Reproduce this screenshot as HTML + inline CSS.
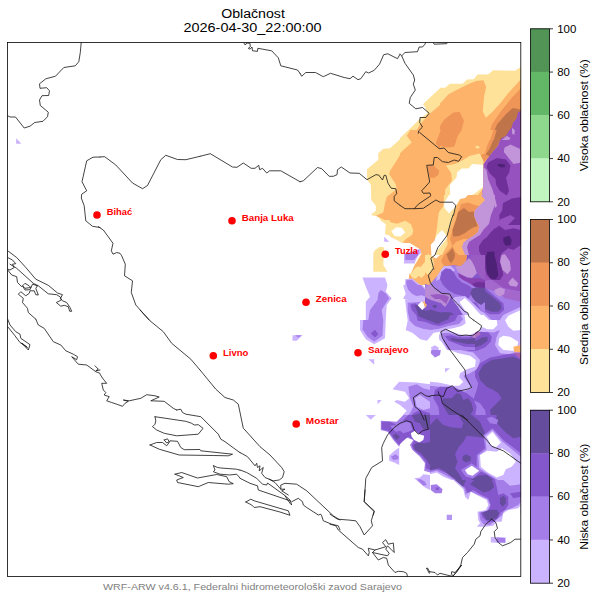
<!DOCTYPE html>
<html><head><meta charset="utf-8"><title>Oblačnost</title>
<style>
html,body{margin:0;padding:0;background:#fff;}
body{width:600px;height:600px;overflow:hidden;font-family:"Liberation Sans",sans-serif;}
svg{display:block;}
text{font-family:"Liberation Sans",sans-serif;}
.b{fill:none;stroke:#141414;stroke-width:0.8;stroke-linejoin:round;stroke-linecap:round;}
.c{font-weight:bold;fill:#ff0000;font-size:8.2px;}
.t{font-size:10.2px;fill:#000;}
</style></head><body>
<svg width="600" height="600" viewBox="0 0 600 600">
<rect x="0" y="0" width="600" height="600" fill="#ffffff"/>
<defs><clipPath id="mc"><rect x="7.5" y="42.5" width="513.3" height="534"/></clipPath></defs>
<g clip-path="url(#mc)">

<polygon points="16.2,138.3 16.2,143.7 21.3,143.7" fill="#c8b0f8"/>
<polygon points="292.5,335.3 302.5,335.3 296.7,340.8 292.5,340.8" fill="#ccb3ff"/>
<polygon points="295.0,335.3 301.7,335.3 298.3,337.5" fill="#a57de8"/>
<clipPath id="t0"><rect x="400.00" y="40.00" width="100.00" height="100.00"/></clipPath>
<g clip-path="url(#t0)">
<rect x="399.00" y="39.00" width="102.00" height="102.00" fill="#ffffff"/>
<polygon points="400.0,138.3 420.8,118.0 427.5,113.3 425.0,106.7 422.8,104.2 440.0,88.3 450.0,84.2 455.0,83.0 463.3,82.5 465.8,79.5 473.3,79.2 477.0,75.0 488.3,74.5 493.3,70.3 500.0,70.3 500.0,140.0 400.0,140.0" fill="#ffe29a"/>
<polygon points="410.8,140.0 420.0,124.2 429.2,114.2 440.0,105.0 450.0,96.7 458.3,90.0 470.0,83.3 478.3,80.0 483.3,80.0 486.7,85.8 485.0,95.0 482.5,110.0 485.8,118.3 493.3,113.3 500.0,109.2 500.0,140.0" fill="#fdb46a"/>
<polygon points="440.8,140.0 441.7,125.0 448.3,116.7 459.2,111.7 463.3,120.0 462.5,130.0 458.3,140.0" fill="#ee9557"/>
</g>
<clipPath id="t1"><rect x="440.00" y="60.00" width="90.00" height="90.00"/></clipPath>
<g clip-path="url(#t1)">
<rect x="439.00" y="59.00" width="92.00" height="92.00" fill="#ffffff"/>
<polygon points="440.0,87.8 445.2,87.8 449.8,83.7 462.5,83.7 467.0,79.5 473.8,79.2 477.5,74.5 488.0,74.5 493.2,70.2 515.0,70.8 520.2,67.2 530.0,67.2 530.0,150.0 440.0,150.0" fill="#ffe29a"/>
<polygon points="440.0,103.5 448.2,94.5 455.0,90.8 467.0,84.8 476.0,81.0 483.5,80.2 486.2,87.0 484.2,96.0 482.8,111.0 485.8,117.8 491.8,112.5 500.0,103.5 509.0,92.2 520.7,79.5 530.0,79.5 530.0,150.0 440.0,150.0" fill="#fdb46a"/>
<polygon points="520.7,88.5 512.0,97.5 500.0,112.5 491.8,124.5 488.0,138.0 486.5,150.0 530.0,150.0 530.0,88.5" fill="#ee9557"/>
<polygon points="520.7,109.5 512.8,108.0 506.0,114.0 497.0,124.5 492.5,135.0 491.8,150.0 530.0,150.0 530.0,109.5" fill="#c0744a"/>
<polygon points="520.7,111.0 518.0,112.5 516.5,118.5 512.8,123.0 512.0,126.8 508.2,132.0 506.0,135.8 500.8,138.8 500.0,144.0 494.8,150.0 530.0,150.0 530.0,111.0" fill="#9652be"/>
<polygon points="502.2,139.5 506.8,135.8 510.5,138.0 506.0,144.0 503.0,146.2" fill="#c294da"/>
<polygon points="512.0,127.5 515.0,130.5 514.2,135.0 512.0,133.5" fill="#c294da"/>
<polygon points="440.0,126.0 444.5,119.2 453.5,112.5 459.5,111.8 464.0,120.8 461.8,129.0 461.0,138.0 455.0,145.5 453.5,150.0 440.0,150.0" fill="#ee9557"/>
<polygon points="475.2,147.0 478.2,145.8 479.8,148.5 476.8,149.2" fill="#ffe29a"/>
</g>
<clipPath id="t2"><rect x="400.00" y="130.00" width="100.00" height="100.00"/></clipPath>
<g clip-path="url(#t2)">
<rect x="399.00" y="129.00" width="102.00" height="102.00" fill="#fdb46a"/>
<polygon points="408.5,130.0 410.3,130.0 406.7,135.8 411.7,142.5 400.0,153.3 400.0,138.3" fill="#ffe29a"/>
<polygon points="400.0,130.0 408.5,130.0 400.0,138.3" fill="#ffffff"/>
<polygon points="400.0,223.3 405.0,220.8 412.5,230.0 400.0,230.0" fill="#ffe29a"/>
<polygon points="440.8,130.0 435.8,143.3 439.2,148.3 444.2,148.0 448.3,152.5 457.5,152.5 453.3,146.7 458.3,135.0 461.7,130.0" fill="#ee9557"/>
<polygon points="427.5,165.8 433.3,165.3 439.2,170.8 438.3,175.0 434.2,177.8 429.7,177.8" fill="#ee9557"/>
<polygon points="446.7,163.3 455.0,160.8 466.7,159.2 471.7,155.0 478.3,155.0 482.5,160.8 482.5,185.0 473.3,194.2 466.7,199.2 460.0,200.0 459.2,204.2 455.8,205.8 454.2,210.0 450.0,213.3 450.8,230.0 440.0,230.0 439.2,223.3 440.0,213.3 435.8,203.3 438.3,200.0 444.2,196.7 445.8,186.7 450.0,181.7 453.3,173.3" fill="#ffe29a"/>
<polygon points="472.5,163.3 482.5,164.2 482.5,185.0 473.3,194.2 466.7,198.3 460.0,198.7 459.2,203.3 455.8,205.0 453.3,202.5 450.0,200.0 450.0,186.7 455.8,180.0 456.7,173.3 461.7,168.7 466.7,169.2" fill="#ffffff"/>
<polygon points="444.2,205.0 453.3,203.3 455.8,205.8 454.2,210.0 448.3,213.3 444.2,208.3" fill="#ffffff"/>
<polygon points="493.3,130.0 500.0,130.0 500.0,145.8 495.0,148.3 490.0,155.0 486.7,160.0 483.3,155.0 480.0,153.3 486.7,146.7 490.8,138.3" fill="#ee9557"/>
<polygon points="496.7,130.0 500.0,130.0 500.0,145.8 495.0,148.3 488.3,157.5 485.8,155.0 493.3,141.7" fill="#c0744a"/>
</g>
<clipPath id="t3"><rect x="440.00" y="140.00" width="90.00" height="90.00"/></clipPath>
<g clip-path="url(#t3)">
<rect x="439.00" y="139.00" width="92.00" height="92.00" fill="#fdb46a"/>
<polygon points="440.0,140.0 456.5,140.0 454.2,146.8 447.5,147.5 440.0,146.0" fill="#ee9557"/>
<polygon points="489.5,140.0 500.0,140.0 497.8,146.0 492.5,152.0 488.0,158.0 483.5,162.5 480.5,155.0 485.0,153.5 486.5,147.5" fill="#ee9557"/>
<polygon points="493.2,140.0 500.0,140.0 497.0,146.8 492.5,152.0 489.5,156.5 485.8,154.2 489.5,149.0" fill="#c0744a"/>
<polygon points="446.0,165.5 455.0,164.0 462.5,160.2 470.0,155.8 479.8,153.5 483.5,161.0 483.5,188.0 477.5,195.5 467.0,200.0 461.0,201.5 459.5,206.0 455.8,207.5 454.2,211.2 447.5,215.0 446.0,230.0 440.0,230.0 440.0,210.5 444.5,204.5 445.2,189.5 452.0,180.5 451.2,173.0" fill="#ffe29a"/>
<polygon points="475.2,146.3 478.2,145.7 479.8,147.8 476.8,148.7" fill="#ffe29a"/>
<polygon points="472.2,164.0 482.8,164.8 483.5,186.5 476.0,192.5 467.0,198.5 459.5,200.0 458.8,203.8 455.0,206.0 450.5,201.5 449.8,185.0 456.5,177.5 457.2,172.2 461.8,168.5 468.5,168.5" fill="#ffffff"/>
<polygon points="443.8,205.2 452.0,203.0 455.0,206.0 453.5,209.8 447.5,213.5 443.8,209.0" fill="#ffffff"/>
<polygon points="459.5,206.0 462.5,201.5 468.5,199.2 479.0,195.5 485.0,197.0 485.0,201.5 480.5,206.0 476.0,210.5 474.5,221.0 479.0,230.0 447.5,230.0 449.0,218.0 454.2,211.2 455.8,207.5" fill="#ee9557"/>
<polygon points="456.5,218.0 462.5,209.0 468.5,212.0 474.5,210.5 474.5,221.0 479.0,230.0 450.5,230.0 453.5,221.0" fill="#c0744a"/>
<polygon points="500.0,140.0 497.8,146.0 492.5,152.0 488.0,158.0 483.5,164.0 483.5,186.5 482.0,192.5 485.0,200.0 480.5,206.0 476.0,210.5 474.5,221.0 479.8,230.0 530.0,230.0 530.0,140.0" fill="#9652be"/>
<polygon points="504.5,147.5 510.5,144.5 520.2,149.0 521.0,162.5 513.5,164.0 507.5,156.5 503.8,152.0" fill="#c294da"/>
<polygon points="483.5,167.0 486.5,170.0 488.0,179.0 492.5,189.5 495.5,200.0 497.0,206.0 491.0,212.0 489.5,218.0 485.0,224.0 485.0,230.0 479.8,230.0 474.5,221.0 476.0,210.5 480.5,206.0 485.0,200.0 482.0,192.5 483.5,186.5" fill="#c294da"/>
<polygon points="488.0,162.5 497.0,158.0 506.0,159.5 510.5,165.5 509.0,173.0 506.0,177.5 509.0,191.0 506.8,195.5 500.0,191.0 496.2,185.0 495.5,179.0 489.5,173.0 486.5,167.0" fill="#70309a"/>
<polygon points="503.0,203.0 512.0,198.5 521.0,197.0 521.0,230.0 503.0,230.0 500.0,224.0 499.2,215.0 502.2,210.5" fill="#70309a"/>
<polygon points="497.0,164.8 500.0,163.7 505.2,164.8 504.5,167.3 500.0,167.3" fill="#4d2175"/>
<polygon points="500.0,219.5 510.5,215.0 515.0,218.0 509.0,224.0 503.0,230.0 498.5,225.5" fill="#9652be"/>
</g>
<clipPath id="t4"><rect x="300.00" y="130.00" width="100.00" height="100.00"/></clipPath>
<g clip-path="url(#t4)">
<rect x="299.00" y="129.00" width="102.00" height="102.00" fill="#ffffff"/>
<polygon points="400.0,139.2 390.0,148.3 383.3,148.7 378.3,153.3 378.3,159.7 367.0,169.2 367.0,179.2 370.8,185.0 371.3,200.0 375.8,205.8 375.8,210.8 370.8,215.0 378.3,216.7 383.3,224.2 385.0,230.0 400.0,230.0" fill="#ffe29a"/>
<polygon points="400.0,155.0 395.0,163.3 390.0,170.8 389.2,174.2 395.8,184.2 396.7,189.2 386.7,196.7 385.0,203.3 383.3,212.5 375.8,215.8 388.3,221.7 400.0,221.7" fill="#fdb46a"/>
</g>
<clipPath id="t5"><rect x="350.00" y="220.00" width="100.00" height="100.00"/></clipPath>
<g clip-path="url(#t5)">
<rect x="349.00" y="219.00" width="102.00" height="102.00" fill="#ffffff"/>
<polygon points="380.0,220.0 385.8,224.2 385.0,234.2 393.3,236.7 401.7,239.2 405.0,241.7 416.7,250.0 420.0,253.3 418.3,261.7 413.3,270.0 409.2,273.3 413.3,277.5 418.3,275.8 423.3,281.7 426.7,284.2 436.7,280.0 443.3,275.0 450.0,270.0 450.0,220.0" fill="#ffe29a"/>
<polygon points="390.8,231.7 397.5,227.0 405.0,231.7 400.0,236.7 395.0,235.8" fill="#ffffff"/>
<polygon points="388.3,220.0 400.0,221.7 411.7,226.7 413.3,234.2 405.0,241.7 416.7,249.2 420.0,253.3 423.3,260.0 416.7,265.0 420.0,270.0 426.7,265.0 430.0,260.0 431.7,256.7 435.0,252.5 437.5,249.2 443.3,236.7 450.0,225.0 450.0,220.0" fill="#fdb46a"/>
<polygon points="430.8,245.0 438.3,233.3 443.3,230.0 448.3,231.7 443.3,241.7 440.0,251.7 435.8,259.2 432.5,256.7 430.8,250.0" fill="#ffffff"/>
<polygon points="448.3,231.7 450.0,228.3 450.0,253.3 443.3,251.7 440.0,251.7 443.3,241.7" fill="#fdb46a"/>
<polygon points="443.3,251.7 450.0,248.3 450.0,263.3 445.0,260.0" fill="#ee9557"/>
<polygon points="375.0,250.0 380.0,246.7 384.2,247.5 383.3,265.0 387.5,271.7 373.3,271.7 373.3,253.3" fill="#ffe29a"/>
<polygon points="384.2,236.7 389.2,241.7 384.2,241.7" fill="#ccb3ff"/>
<polygon points="403.3,253.3 419.2,251.7 420.0,258.3 415.0,264.2 403.3,264.2" fill="#ccb3ff"/>
<polygon points="405.0,255.0 417.5,253.3 418.3,258.0 414.2,262.5 405.0,262.5" fill="#a57de8"/>
<polygon points="362.5,277.5 385.0,277.5 387.5,285.0 385.8,291.7 391.7,298.3 386.7,305.0 385.8,320.0 365.8,320.0 365.8,301.7 370.0,296.7 365.8,286.7" fill="#ccb3ff"/>
<polygon points="380.8,290.0 385.8,293.3 389.2,298.3 385.8,303.3 381.7,310.0 383.3,320.0 368.3,320.0 370.0,310.0 377.5,300.0 378.3,293.3" fill="#a57de8"/>
<polygon points="405.0,279.2 416.7,275.0 428.3,285.0 436.7,291.7 450.0,293.3 450.0,320.0 406.7,320.0 405.8,300.0 408.3,293.3 404.2,285.0" fill="#ccb3ff"/>
<polygon points="405.8,280.8 415.8,280.0 423.3,283.3 428.3,291.7 428.3,295.0 421.7,298.3 411.7,298.3 407.5,290.0" fill="#a57de8"/>
<polygon points="406.7,301.7 420.0,300.0 428.3,296.7 436.7,295.0 450.0,295.0 450.0,320.0 406.7,320.0" fill="#8457cc"/>
<polygon points="411.7,305.0 416.7,303.3 423.3,310.0 430.0,315.0 431.7,320.0 416.7,320.0 413.3,313.3" fill="#654c9c"/>
<polygon points="418.3,305.0 422.5,301.7 426.7,305.8 422.5,310.0" fill="#ffffff"/>
<polygon points="422.5,301.7 426.7,300.0 428.3,305.0 425.8,306.7" fill="#fdb46a"/>
</g>
<clipPath id="t6"><rect x="430.00" y="225.00" width="100.00" height="100.00"/></clipPath>
<g clip-path="url(#t6)">
<rect x="429.00" y="224.00" width="102.00" height="102.00" fill="#9652be"/>
<polygon points="430.0,280.0 436.7,275.0 440.0,269.2 446.7,266.7 456.7,268.3 465.0,263.3 471.7,275.0 480.0,281.7 491.7,280.0 503.3,288.3 520.8,291.7 520.8,325.0 430.0,325.0" fill="#a57de8"/>
<polygon points="430.0,291.7 440.0,295.0 450.0,293.3 460.0,301.7 463.3,311.7 455.0,311.7 446.7,303.3 436.7,300.0 430.0,300.0" fill="#c294da"/>
<polygon points="480.0,281.7 491.7,280.0 503.3,288.3 520.8,291.7 520.8,301.7 505.0,298.3 496.7,291.7 485.0,288.3" fill="#a468cc"/>
<polygon points="430.0,225.0 478.3,225.0 476.7,230.0 470.0,235.0 466.7,241.7 465.8,246.7 468.3,256.7 465.0,263.3 456.7,268.3 446.7,266.7 440.0,269.2 436.7,275.0 430.0,280.0" fill="#fdb46a"/>
<polygon points="430.0,225.0 440.0,225.0 446.7,230.0 444.2,243.3 436.7,255.0 434.2,266.7 430.0,273.3" fill="#ffe29a"/>
<polygon points="431.7,245.0 439.2,231.7 442.5,230.0 446.7,231.7 446.7,238.3 440.0,250.0 435.8,259.2 431.7,254.2" fill="#ffffff"/>
<polygon points="451.7,228.3 473.3,225.0 478.3,226.7 475.0,233.3 468.3,235.0 463.3,240.0 455.0,236.7 451.7,233.3" fill="#ee9557"/>
<polygon points="452.5,228.3 472.5,225.8 475.0,231.7 469.2,234.2 461.7,236.7 453.3,235.0" fill="#c0744a"/>
<polygon points="456.7,243.3 463.3,240.8 466.7,246.7 467.5,255.0 463.3,256.7 457.5,250.0" fill="#ffe29a"/>
<polygon points="445.8,255.0 450.8,247.5 455.0,243.3 456.7,250.0 463.3,256.7 465.8,260.8 458.3,265.0 448.3,263.3" fill="#ee9557"/>
<polygon points="446.7,255.8 450.8,249.2 455.0,255.8 451.7,262.5" fill="#c0744a"/>
<polygon points="440.0,275.0 445.0,268.3 451.7,269.2 456.7,275.0 463.3,280.0 470.0,286.7 469.2,295.0 463.3,293.3 450.0,291.7 441.7,286.7 438.3,281.7" fill="#8457cc"/>
<polygon points="478.3,246.7 485.0,238.3 493.3,230.0 500.0,225.0 520.8,225.0 520.8,245.0 513.3,250.0 508.3,248.3 501.7,253.3 500.0,258.3 503.3,275.0 500.0,280.0 491.7,280.0 486.7,275.0 483.3,261.7 480.0,255.0" fill="#70309a"/>
<polygon points="498.3,225.0 520.8,225.0 520.8,230.0 513.3,228.3 505.0,230.0" fill="#9652be"/>
<polygon points="503.3,237.5 509.2,235.8 511.7,240.0 510.8,245.0 505.8,245.8 503.3,241.7" fill="#4d2175"/>
<polygon points="486.7,252.5 493.3,251.7 496.7,263.3 498.3,275.0 495.8,279.2 490.0,278.3 486.7,271.7 485.8,258.3" fill="#4d2175"/>
<polygon points="501.7,255.0 505.0,254.2 510.0,261.7 510.8,270.0 507.5,274.2 502.5,270.0 500.0,261.7" fill="#c294da"/>
<polygon points="508.3,282.5 512.5,277.5 518.3,283.3 516.7,286.7 510.0,285.8" fill="#c294da"/>
<polygon points="494.2,290.0 500.0,287.5 505.0,289.2 504.2,294.2 499.2,296.7 495.0,293.3" fill="#c294da"/>
<polygon points="469.2,285.0 483.3,285.8 493.3,295.0 503.3,303.3 504.2,310.0 499.2,314.2 490.0,314.2 478.3,308.3 469.2,301.7 467.5,293.3" fill="#8457cc"/>
<polygon points="471.7,287.5 481.7,288.3 490.0,295.0 500.0,303.3 501.7,308.3 498.3,311.7 491.7,311.7 480.0,306.7 471.7,300.0 470.0,293.3" fill="#654c9c"/>
<polygon points="458.3,300.8 465.0,296.7 481.7,310.8 491.7,320.0 498.3,325.0 476.7,325.0 466.7,315.8 460.0,307.5" fill="#ccb3ff"/>
<polygon points="460.0,301.7 465.0,298.3 480.0,311.7 490.0,320.8 495.0,325.0 478.3,325.0 468.3,315.0 461.7,306.7" fill="#ffffff"/>
<polygon points="503.3,315.0 520.8,306.7 520.8,325.0 496.7,325.0" fill="#ccb3ff"/>
<polygon points="508.3,315.8 520.8,310.0 520.8,325.0 501.7,325.0" fill="#ffffff"/>
<polygon points="430.0,305.0 435.0,303.3 440.0,308.3 446.7,311.7 451.7,311.7 450.0,318.3 445.0,321.7 440.0,320.0 435.0,325.0 430.0,325.0" fill="#8457cc"/>
<polygon points="431.7,315.0 438.3,313.3 446.7,312.5 450.0,315.0 445.8,320.8 440.0,319.2 433.3,323.3" fill="#654c9c"/>
</g>
<clipPath id="t7"><rect x="430.00" y="320.00" width="100.00" height="100.00"/></clipPath>
<g clip-path="url(#t7)">
<rect x="429.00" y="319.00" width="102.00" height="102.00" fill="#a57de8"/>
<polygon points="458.3,320.0 520.8,320.0 520.8,355.0 510.0,354.2 500.0,353.3 495.0,345.0 496.7,336.7 500.0,330.0 493.3,332.5 486.7,331.7 480.0,332.5 470.0,336.7 461.7,332.5" fill="#ccb3ff"/>
<polygon points="430.0,330.0 438.3,328.3 445.0,334.2 446.7,341.7 453.3,347.5 463.3,350.8 473.3,352.5 480.0,360.0 478.3,368.3 470.0,373.3 463.3,375.8 467.5,382.5 471.7,388.3 463.3,391.7 455.0,388.3 440.0,386.7 430.0,385.8" fill="#ccb3ff"/>
<polygon points="465.8,320.0 496.7,320.0 497.5,325.0 493.3,329.2 487.5,329.2 481.7,326.7 479.2,331.7 471.7,335.0 465.8,330.0 461.7,325.0" fill="#ffffff"/>
<polygon points="505.0,320.0 520.8,320.0 520.8,330.0 513.3,330.8 508.3,326.7" fill="#ffffff"/>
<polygon points="499.2,338.3 503.3,335.8 510.0,336.7 518.3,341.7 516.7,350.0 512.5,350.8 503.3,350.0 498.3,345.0" fill="#ffffff"/>
<polygon points="430.0,338.3 436.7,332.5 442.5,336.7 443.3,343.3 450.0,350.0 458.3,353.3 470.0,355.8 475.8,360.0 475.0,366.7 466.7,369.2 460.0,373.3 459.2,377.5 463.3,381.7 459.2,385.8 453.3,385.8 446.7,384.2 438.3,382.5 430.0,381.7" fill="#ffffff"/>
<polygon points="445.0,368.3 450.0,368.3 445.0,372.5" fill="#ccb3ff"/>
<polygon points="431.7,346.7 436.7,345.0 440.8,350.0 440.0,355.0 435.0,357.5 430.8,353.3" fill="#a57de8"/>
<polygon points="475.0,371.7 480.0,363.3 490.0,357.5 503.3,355.0 513.3,353.3 520.8,355.8 520.8,420.0 486.7,420.0 485.0,410.0 480.0,403.3 473.3,400.0 476.7,390.0 478.3,383.3 475.0,376.7" fill="#8457cc"/>
<polygon points="478.3,373.3 483.3,365.0 491.7,360.0 503.3,358.3 513.3,356.7 520.8,360.0 520.8,420.0 491.7,420.0 490.0,410.0 496.7,403.3 501.7,398.3 498.3,393.3 493.3,390.0 486.7,386.7 480.0,380.0" fill="#654c9c"/>
<polygon points="443.3,334.2 448.3,330.8 456.7,332.5 470.0,335.8 480.0,331.7 488.3,332.5 491.7,336.7 490.8,341.7 485.0,347.5 476.7,350.8 468.3,350.8 461.7,347.5 451.7,343.3 445.0,338.3" fill="#8457cc"/>
<polygon points="450.0,336.7 460.0,337.5 471.7,339.2 476.7,340.8 481.7,337.5 487.5,336.7 487.5,340.8 481.7,345.0 476.7,346.7 470.0,347.5 465.8,344.2 455.0,340.8" fill="#654c9c"/>
<polygon points="430.0,320.0 456.7,320.0 455.0,324.2 446.7,327.5 438.3,329.2 430.0,328.3" fill="#8457cc"/>
<polygon points="430.0,320.0 445.0,320.0 443.3,323.3 436.7,325.0 430.0,323.3" fill="#654c9c"/>
<polygon points="435.0,390.0 440.0,386.7 453.3,386.7 460.0,390.0 466.7,393.3 473.3,398.3 476.7,406.7 475.0,416.7 470.0,420.0 440.0,420.0 438.3,406.7 433.3,398.3" fill="#8457cc"/>
<polygon points="443.3,398.3 451.7,398.3 456.7,393.3 460.8,394.2 463.3,400.0 468.3,398.3 471.7,403.3 473.3,410.0 469.2,416.7 463.3,420.0 451.7,420.0 446.7,411.7 441.7,403.3" fill="#654c9c"/>
<polygon points="513.3,346.7 520.8,345.0 520.8,352.5 514.2,351.7" fill="#fdb46a"/>
<polygon points="513.3,352.5 520.8,352.5 520.8,359.2 516.7,355.8" fill="#b060b0"/>
<polygon points="470.0,335.0 478.3,330.8 480.8,334.2 475.0,338.3" fill="#b070c0"/>
</g>
<clipPath id="t8"><rect x="430.00" y="415.00" width="100.00" height="100.00"/></clipPath>
<g clip-path="url(#t8)">
<rect x="429.00" y="414.00" width="102.00" height="102.00" fill="#8457cc"/>
<polygon points="430.0,425.0 436.7,418.3 443.3,425.0 451.7,427.5 461.7,428.3 463.3,423.3 458.3,415.0 471.7,415.0 480.0,421.7 485.0,433.3 486.7,438.3 476.7,436.7 466.7,435.8 463.3,441.7 458.3,447.5 455.0,454.2 457.5,461.7 455.0,468.3 461.7,478.3 463.3,485.0 459.2,489.2 453.3,481.7 445.8,471.7 439.2,468.3 430.0,470.0" fill="#654c9c"/>
<polygon points="496.7,415.0 520.8,415.0 520.8,436.7 513.3,438.3 506.7,433.3 500.0,426.7 495.8,421.7" fill="#654c9c"/>
<polygon points="462.5,456.7 465.8,454.2 470.8,456.7 470.8,460.8 465.8,462.5 462.5,460.0" fill="#654c9c"/>
<polygon points="470.8,480.0 478.3,475.8 486.7,475.0 492.5,479.2 494.2,485.8 488.3,490.8 480.0,492.5 474.2,489.2 470.0,485.0" fill="#654c9c"/>
<polygon points="500.0,498.3 504.2,495.8 506.7,500.0 504.2,505.8 500.8,504.2" fill="#654c9c"/>
<polygon points="478.3,512.5 485.0,510.0 493.3,510.0 498.3,515.0 476.7,515.0" fill="#654c9c"/>
<polygon points="486.7,418.3 491.7,416.7 498.3,420.0 496.7,424.2 490.0,423.3" fill="#a57de8"/>
<polygon points="483.3,435.0 492.5,428.3 503.3,440.0 520.8,453.3 520.8,493.3 510.0,490.0 501.7,485.0 493.3,478.3 485.0,473.3 476.7,470.0 476.7,455.0 485.0,448.3" fill="#a57de8"/>
<polygon points="460.8,470.0 471.7,463.3 481.7,470.8 473.3,478.3 465.8,476.7" fill="#a57de8"/>
<polygon points="430.0,470.8 437.5,469.2 446.7,473.3 455.0,479.2 463.3,488.3 467.5,495.0 474.2,486.7 481.7,492.5 489.2,500.0 491.7,508.3 483.3,515.0 430.0,515.0" fill="#a57de8"/>
<polygon points="485.0,435.8 492.5,430.0 502.5,441.7 520.8,456.7 520.8,486.7 513.3,482.5 506.7,485.8 496.7,479.2 486.7,473.3 479.2,468.3 478.3,455.8 486.7,449.2" fill="#ccb3ff"/>
<polygon points="430.0,472.5 436.7,470.8 445.0,475.0 454.2,480.0 462.5,489.2 467.5,497.5 474.7,488.3 480.8,493.7 487.5,500.8 490.0,507.5 482.5,514.2 478.3,515.0 430.0,515.0" fill="#ccb3ff"/>
<polygon points="486.7,436.7 492.5,431.7 500.8,442.5 495.8,447.5 490.8,445.0" fill="#ffffff"/>
<polygon points="480.0,455.0 487.5,450.8 496.7,451.7 501.7,448.3 510.0,453.3 515.8,461.7 511.7,466.7 505.8,469.2 503.3,475.0 496.7,477.5 486.7,471.7 480.8,466.7" fill="#ffffff"/>
<polygon points="465.0,470.0 471.7,465.8 479.2,470.8 472.5,475.8 467.5,474.2" fill="#ffffff"/>
<polygon points="430.0,474.2 436.7,472.5 443.3,476.7 453.3,480.8 461.7,490.0 467.5,499.2 475.0,490.0 480.0,495.0 486.7,501.7 488.3,506.7 481.7,513.3 476.7,515.0 430.0,515.0" fill="#ffffff"/>
<polygon points="431.7,485.0 436.7,483.3 442.5,488.3 441.7,493.3 435.0,493.3 430.8,490.0" fill="#a57de8"/>
<polygon points="435.8,487.5 439.2,487.5 438.3,490.8 435.8,490.0" fill="#8457cc"/>
</g>
<clipPath id="t9"><rect x="430.00" y="480.00" width="100.00" height="100.00"/></clipPath>
<g clip-path="url(#t9)">
<rect x="429.00" y="479.00" width="102.00" height="102.00" fill="#ffffff"/>
<polygon points="453.3,480.0 463.3,489.2 465.0,496.7 468.3,500.0 470.8,491.7 478.3,495.8 486.7,500.0 488.3,505.0 485.8,510.0 477.5,511.7 478.3,520.0 480.0,523.3 476.7,526.7 485.0,526.7 493.3,525.8 496.7,521.7 501.7,521.7 503.3,513.3 508.3,510.0 518.3,508.3 520.8,505.0 520.8,480.0" fill="#ccb3ff"/>
<polygon points="455.0,480.0 464.2,488.3 465.8,495.0 469.2,490.8 478.3,495.0 487.5,499.2 490.0,505.0 487.5,510.8 479.2,512.5 480.0,519.2 483.3,524.2 490.0,525.0 495.8,520.0 501.7,515.8 504.2,510.8 511.7,508.3 518.3,505.0 520.8,501.7 520.8,480.0" fill="#a57de8"/>
<polygon points="456.7,480.0 465.0,487.5 467.5,493.3 473.3,490.0 480.0,494.2 488.3,498.3 490.8,505.0 488.3,510.8 480.8,512.5 482.5,517.5 487.5,521.7 494.2,521.7 498.3,517.5 500.8,512.5 505.0,510.0 508.3,505.0 508.3,496.7 503.3,493.3 498.3,495.0 496.7,486.7 495.0,480.0" fill="#8457cc"/>
<polygon points="510.0,493.3 520.8,491.7 520.8,496.7 513.3,498.3" fill="#8457cc"/>
<polygon points="503.3,480.0 520.8,480.0 520.8,484.2 510.0,485.8" fill="#ccb3ff"/>
<polygon points="470.0,484.2 474.2,480.0 491.7,480.0 494.2,486.7 490.0,490.8 483.3,492.5 476.7,488.3" fill="#654c9c"/>
<polygon points="455.0,480.0 465.8,480.0 463.3,486.7" fill="#654c9c"/>
<polygon points="500.0,498.3 503.3,495.8 505.8,498.3 505.8,503.3 502.5,506.7 500.0,503.3" fill="#654c9c"/>
<polygon points="482.5,513.3 488.3,510.0 496.7,509.7 499.2,513.3 496.7,518.3 491.7,520.0 486.7,520.0" fill="#654c9c"/>
<polygon points="430.8,485.0 436.7,484.2 442.5,489.2 441.7,493.3 435.0,493.3 430.8,490.0" fill="#a57de8"/>
<polygon points="435.8,487.5 439.2,487.5 438.3,490.3 435.8,490.0" fill="#8457cc"/>
<polygon points="446.7,514.7 452.0,514.7 452.0,520.0 446.7,520.0" fill="#b495f0"/>
<polygon points="490.8,537.0 505.8,537.5 505.8,543.0 490.8,542.5" fill="#ccb3ff"/>
<polygon points="496.7,537.5 505.0,538.0 505.0,542.5 496.7,542.5" fill="#a57de8"/>
</g>
<clipPath id="t10"><rect x="330.00" y="320.00" width="100.00" height="100.00"/></clipPath>
<g clip-path="url(#t10)">
<rect x="329.00" y="319.00" width="102.00" height="102.00" fill="#ffffff"/>
<polygon points="360.0,320.0 385.8,320.0 385.0,338.3 374.2,344.2 365.8,339.2 360.0,330.0" fill="#ccb3ff"/>
<polygon points="363.3,320.0 383.3,320.0 382.5,335.8 374.2,341.7 367.5,336.7 362.5,329.2" fill="#a57de8"/>
<polygon points="370.8,333.3 375.0,329.7 378.3,334.2 374.7,337.5" fill="#8457cc"/>
<polygon points="405.8,320.0 430.0,320.0 430.0,335.0 426.7,340.8 420.0,335.8 411.7,331.7 406.7,328.3" fill="#ccb3ff"/>
<polygon points="408.3,320.0 430.0,320.0 430.0,331.7 420.0,332.5 412.5,329.2" fill="#a57de8"/>
<polygon points="368.3,359.2 374.2,359.2 374.2,364.7" fill="#ccb3ff"/>
<polygon points="392.5,389.2 399.2,381.7 416.7,382.5 430.0,384.2 430.0,420.0 398.3,420.0 406.7,410.8 400.0,405.0 394.2,401.7 396.7,400.0 405.0,401.7 409.2,398.3 405.0,391.7" fill="#ccb3ff"/>
<polygon points="408.3,386.7 416.7,384.2 423.3,388.3 430.0,390.0 430.0,420.0 403.3,420.0 410.0,413.3 413.3,406.7 410.0,398.3" fill="#a57de8"/>
<polygon points="415.0,398.3 420.0,395.0 430.0,401.7 430.0,408.3 423.3,410.0 416.7,406.7" fill="#ccb3ff"/>
<polygon points="408.3,420.0 413.3,413.3 420.0,410.0 430.0,413.3 430.0,420.0" fill="#8457cc"/>
<polygon points="412.5,420.0 415.0,415.0 420.8,413.3 423.3,420.0" fill="#654c9c"/>
<polygon points="377.5,400.0 381.7,400.0 377.5,404.2" fill="#ccb3ff"/>
<polygon points="365.8,415.0 375.0,415.0 370.8,419.2" fill="#ccb3ff"/>
</g>
<clipPath id="t11"><rect x="330.00" y="415.00" width="100.00" height="100.00"/></clipPath>
<g clip-path="url(#t11)">
<rect x="329.00" y="414.00" width="102.00" height="102.00" fill="#ffffff"/>
<polygon points="365.8,415.0 375.8,415.0 370.8,419.7" fill="#ccb3ff"/>
<polygon points="380.8,420.8 396.7,421.7 403.3,415.0 430.0,415.0 430.0,472.5 424.2,470.8 425.0,463.3 420.0,456.7 412.5,450.0 410.0,445.0 413.3,440.0 406.7,437.5 400.0,444.2 399.2,446.7 393.3,440.0 387.5,431.7 380.8,430.0" fill="#a57de8"/>
<polygon points="381.7,421.7 390.0,421.7 396.7,425.0 403.3,420.0 408.3,415.0 430.0,415.0 430.0,470.0 425.8,468.3 425.8,461.7 420.8,455.8 413.3,449.2 411.7,445.0 414.2,440.0 408.3,436.7 401.7,441.7 399.2,445.0 394.2,439.2 388.3,430.8 381.7,429.2" fill="#8457cc"/>
<polygon points="390.0,425.8 396.7,425.0 403.3,420.8 410.0,422.5 412.5,430.0 408.3,431.7 403.3,433.3 400.0,430.8 395.8,431.7" fill="#a57de8"/>
<polygon points="392.5,435.8 396.3,433.7 400.0,436.7 396.7,440.0" fill="#654c9c"/>
<polygon points="411.7,415.0 430.0,415.0 430.0,430.0 423.3,429.2 420.0,423.3 415.0,421.7" fill="#654c9c"/>
<polygon points="413.3,445.0 418.3,442.5 425.0,443.3 430.0,441.7 430.0,465.0 426.7,460.0 420.8,453.3 415.0,450.0" fill="#654c9c"/>
<polygon points="410.8,433.3 415.0,430.8 419.2,434.2 424.2,435.8 423.3,440.0 419.2,442.5 414.2,440.0 411.7,436.7" fill="#ffffff"/>
<polygon points="389.2,455.8 393.3,451.7 399.2,447.5 399.2,465.0 394.2,462.5 389.2,460.8" fill="#ccb3ff"/>
<polygon points="390.8,456.7 395.8,454.2 398.7,456.7 398.3,459.2 393.3,460.0" fill="#a57de8"/>
<polygon points="414.2,478.3 420.0,477.5 423.3,474.2 430.0,475.0 430.0,490.0 425.0,487.5 420.0,483.3" fill="#ccb3ff"/>
<polygon points="416.7,479.2 420.8,479.2 425.0,481.7 426.7,485.0 423.3,485.8" fill="#a57de8"/>
</g>
<clipPath id="t12"><rect x="395.00" y="270.00" width="80.00" height="80.00"/></clipPath>
<g clip-path="url(#t12)">
<rect x="394.00" y="269.00" width="82.00" height="82.00" fill="#ffffff"/>
<polygon points="409.0,272.7 415.0,270.0 439.0,270.0 440.3,274.0 435.0,278.0 431.0,282.7 427.0,284.7 423.7,282.7 420.3,276.7 417.7,276.0 415.7,278.7 413.0,278.0" fill="#fdb46a"/>
<polygon points="440.3,274.0 441.7,270.0 475.0,270.0 475.0,286.0 469.7,288.7 475.0,295.3 475.0,314.0 467.0,310.0 460.3,302.0 453.7,296.7 451.0,294.0 441.7,293.3 436.3,288.7 433.7,284.7 435.0,278.0" fill="#8457cc"/>
<polygon points="453.7,270.0 475.0,270.0 475.0,286.0 469.7,283.3 464.3,280.0 457.7,276.7" fill="#b98ad6"/>
<polygon points="469.7,295.3 475.0,290.0 475.0,314.0 471.7,308.7 469.7,302.0" fill="#654c9c"/>
<polygon points="403.0,280.0 412.3,278.7 420.3,282.7 426.3,289.3 429.0,294.7 427.0,298.7 417.7,298.7 409.7,300.0 403.0,298.7 405.7,294.0 403.0,284.7" fill="#ccb3ff"/>
<polygon points="406.3,280.7 411.0,279.3 419.0,283.3 424.3,288.7 427.7,293.3 425.7,296.7 421.7,295.3 416.3,296.0 412.3,294.0 408.3,290.0 406.3,284.7" fill="#a57de8"/>
<polygon points="405.0,299.6 409.7,299.1 421.7,298.3 433.7,300.0 448.3,306.0 457.7,311.3 464.3,314.0 465.7,323.3 461.7,326.0 451.0,328.7 445.7,329.3 439.0,332.0 433.7,332.7 427.0,340.7 420.3,339.3 412.3,332.7 405.7,330.0 407.7,320.7 406.3,310.0" fill="#ccb3ff"/>
<polygon points="407.7,302.7 420.3,302.0 435.0,302.7 448.3,307.3 459.0,312.7 463.0,319.3 459.0,324.0 448.3,326.0 439.0,328.7 431.0,330.0 423.0,328.7 415.0,326.0 409.7,320.7 407.7,311.3" fill="#a57de8"/>
<polygon points="428.3,295.3 433.7,284.7 436.3,288.7 441.7,293.3 451.0,294.0 453.7,296.7 460.3,302.0 465.7,310.0 463.0,312.7 457.7,311.3 453.7,308.7 448.3,306.0 444.3,304.7 440.3,302.0 435.0,301.3 429.7,298.7" fill="#b98ad6"/>
<polygon points="431.0,296.0 439.0,293.3 449.7,294.7 451.0,298.7 446.3,304.7 440.3,302.0 435.0,300.7" fill="#9a5cc2"/>
<polygon points="410.3,304.7 415.0,303.3 421.7,307.3 427.0,306.7 432.3,302.0 439.0,304.7 445.7,308.0 453.7,310.0 457.7,315.3 455.0,320.7 448.3,323.3 439.0,326.0 432.3,324.7 425.7,322.0 417.7,320.7 416.3,315.3 411.7,310.0" fill="#8457cc"/>
<polygon points="414.3,305.3 417.7,305.3 421.7,310.0 428.3,309.3 433.7,312.7 441.7,313.3 447.0,311.3 451.0,312.7 448.3,319.3 443.0,321.3 437.7,324.0 431.0,321.3 424.3,318.7 418.3,316.0 417.0,310.7" fill="#654c9c"/>
<polygon points="431.7,305.3 435.0,304.0 437.7,306.7 433.7,308.7" fill="#8457cc"/>
<polygon points="417.7,305.3 421.7,301.3 423.7,303.3 425.0,307.3 422.3,310.0" fill="#ffffff"/>
<polygon points="422.3,302.0 426.3,300.7 427.7,306.0 425.0,307.3 423.7,303.3" fill="#fdb46a"/>
<polygon points="460.3,302.0 464.3,298.0 475.0,308.0 475.0,328.7 469.7,322.7 467.0,315.3 465.7,310.0" fill="#ffffff"/>
<polygon points="439.0,335.3 441.0,330.7 445.7,329.3 451.0,331.3 459.0,334.0 467.0,336.0 475.0,332.7 475.0,350.0 447.0,350.0 441.7,342.0 439.0,339.3" fill="#ccb3ff"/>
<polygon points="441.7,333.3 448.3,332.7 457.7,335.3 469.7,335.3 475.0,334.0 475.0,350.0 448.3,350.0 443.7,342.0" fill="#a57de8"/>
<polygon points="445.0,336.0 451.0,335.3 459.0,337.3 469.7,337.3 475.0,336.0 475.0,347.3 464.3,346.7 455.0,343.3 448.3,340.7" fill="#8457cc"/>
<polygon points="449.7,338.0 457.7,338.7 467.0,339.3 475.0,338.0 475.0,344.0 467.0,344.0 457.7,342.0 452.3,340.7" fill="#654c9c"/>
<polygon points="471.0,335.3 475.0,334.0 475.0,338.0 472.3,337.3" fill="#b98ad6"/>
<polygon points="431.0,347.3 435.0,345.3 439.0,348.0 438.3,350.0 431.7,350.0" fill="#ccb3ff"/>
</g>
<clipPath id="t13"><rect x="390.00" y="215.00" width="70.00" height="70.00"/></clipPath>
<g clip-path="url(#t13)">
<rect x="389.00" y="214.00" width="72.00" height="72.00" fill="#fdb46a"/>
<polygon points="390.0,222.0 397.0,223.8 405.2,220.8 411.0,224.3 413.3,230.2 412.2,234.8 405.2,239.5 402.8,243.0 397.0,240.1 390.0,236.6" fill="#ffe29a"/>
<polygon points="390.0,236.6 397.0,240.1 402.8,243.0 409.8,243.0 419.2,248.8 421.5,253.5 416.8,261.7 414.5,265.2 411.0,273.3 409.2,273.9 408.7,280.3 406.3,285.0 390.0,285.0" fill="#ffffff"/>
<polygon points="391.2,231.3 396.4,227.2 401.7,227.8 405.2,232.5 400.5,236.6 394.7,236.0" fill="#ffffff"/>
<polygon points="439.0,215.0 451.8,215.0 449.5,222.0 447.2,230.2 442.5,229.6 439.0,231.3 437.8,222.0" fill="#ffe29a"/>
<polygon points="428.5,253.5 430.8,258.2 435.5,259.9 432.0,264.0 428.5,269.8 425.0,274.5 421.5,278.0 418.6,275.7 416.2,278.6 413.3,278.6 409.2,273.9 411.0,273.3 415.7,267.5 419.2,266.3 420.3,267.5 425.0,261.7" fill="#ffe29a"/>
<polygon points="430.8,244.8 436.7,238.3 439.0,231.3 442.5,229.6 447.2,234.2 447.2,238.3 442.5,250.0 439.0,256.4 435.5,259.3 431.4,255.8" fill="#ffffff"/>
<polygon points="453.0,238.3 452.4,234.8 453.6,226.7 455.3,220.8 456.5,215.0 460.0,215.0 460.0,240.7 456.5,244.2 455.3,250.0 460.0,253.5 460.0,264.0 453.0,264.0 447.2,261.7 446.0,255.8 450.7,245.3" fill="#ee9557"/>
<polygon points="453.6,226.7 455.9,219.7 460.0,217.3 460.0,235.4 455.3,237.2 453.0,234.8" fill="#c0744a"/>
<polygon points="446.0,255.8 450.7,248.8 454.8,255.8 450.7,262.8" fill="#c0744a"/>
<polygon points="456.5,244.2 460.0,241.2 460.0,252.9 455.9,250.0" fill="#ffe29a"/>
<polygon points="430.2,285.0 429.7,273.3 434.3,271.0 439.0,266.3 441.3,260.5 444.8,264.0 450.7,265.2 460.0,266.3 460.0,285.0" fill="#b98ad6"/>
<polygon points="440.2,269.8 444.8,266.3 450.7,266.9 460.0,268.1 460.0,285.0 439.0,285.0 438.4,275.7" fill="#ccb3ff"/>
<polygon points="441.9,272.2 446.0,268.1 451.8,268.7 460.0,269.8 460.0,285.0 441.3,285.0 440.2,278.0" fill="#8457cc"/>
<polygon points="404.0,253.5 420.3,248.8 420.9,253.5 418.0,255.8 415.1,261.7 415.1,263.4 404.0,263.4" fill="#ccb3ff"/>
<polygon points="405.2,254.1 419.2,250.0 418.0,255.2 413.9,259.9 405.2,259.9" fill="#a57de8"/>
<polygon points="405.2,279.2 412.2,278.6 420.3,285.0 405.2,285.0" fill="#ccb3ff"/>
<polygon points="406.3,280.3 411.6,279.8 418.0,285.0 406.3,285.0" fill="#a57de8"/>
</g>
<clipPath id="t14"><rect x="425.00" y="255.00" width="60.00" height="60.00"/></clipPath>
<g clip-path="url(#t14)">
<rect x="424.00" y="254.00" width="62.00" height="62.00" fill="#8457cc"/>
<polygon points="425.0,285.0 437.0,275.0 443.0,266.0 455.0,265.0 467.0,275.0 477.0,285.0 477.0,303.0 455.0,298.0 440.0,295.0 425.0,297.0" fill="#a57de8"/>
<polygon points="437.0,275.0 440.0,270.0 445.0,265.5 451.0,266.0 455.0,270.0 453.0,272.0 450.0,269.0 445.5,268.5 441.5,272.0 440.0,279.0 436.0,281.0" fill="#ccb3ff"/>
<polygon points="440.0,279.0 441.5,272.0 445.5,268.5 450.5,269.0 453.5,272.0 457.0,278.0 462.0,282.5 468.0,285.0 472.0,288.0 471.0,295.0 468.0,299.0 463.0,296.0 455.0,294.0 448.0,290.0 443.0,285.0" fill="#8457cc"/>
<polygon points="425.0,255.0 467.0,255.0 466.0,261.0 461.0,266.0 454.0,265.0 448.0,265.5 444.0,266.0 441.0,270.0 437.0,276.0 431.0,283.0 429.0,285.0 425.0,284.0" fill="#fdb46a"/>
<polygon points="425.0,255.0 431.0,255.0 433.5,260.0 434.0,269.0 428.0,275.0 425.0,272.0" fill="#ffe29a"/>
<polygon points="441.0,261.0 444.0,255.0 467.0,255.0 466.0,261.0 461.0,266.0 454.0,265.0 448.0,265.5 444.0,266.0" fill="#ee9557"/>
<polygon points="447.0,255.0 455.0,255.0 454.0,259.0 451.0,263.5 448.0,259.0" fill="#c0744a"/>
<polygon points="431.0,255.0 440.0,255.0 436.0,258.5 433.0,257.0" fill="#ffffff"/>
<polygon points="455.0,266.0 461.0,266.0 466.0,261.0 469.0,258.0 472.0,261.0 475.0,267.0 477.0,273.0 472.0,278.0 467.0,277.0 462.0,275.0 458.0,272.0" fill="#c294da"/>
<polygon points="469.0,258.0 472.0,255.0 485.0,255.0 485.0,280.0 481.0,278.0 477.0,273.0 475.0,267.0 472.0,261.0" fill="#9a5cc2"/>
<polygon points="458.0,273.0 462.0,275.0 467.0,277.5 472.0,278.5 477.0,278.0 481.0,278.5 485.0,280.5 485.0,287.0 481.0,286.0 475.0,287.0 472.0,285.0 468.0,282.5 463.0,280.0 459.0,277.0" fill="#8a42b2"/>
<polygon points="472.0,284.0 477.0,282.0 485.0,282.5 485.0,288.0 476.0,287.5" fill="#70309a"/>
<polygon points="472.0,288.5 476.0,287.5 485.0,288.0 485.0,302.0 481.0,305.0 476.0,302.0 472.0,297.0 470.5,293.0" fill="#654c9c"/>
<polygon points="425.0,288.0 431.0,284.0 435.0,289.0 441.0,293.0 449.0,293.5 451.0,297.0 448.0,303.0 445.0,307.0 437.0,302.0 431.0,300.0 425.0,297.0" fill="#b98ad6"/>
<polygon points="430.0,295.0 437.0,294.0 445.0,295.0 449.0,297.0 446.5,304.0 440.0,299.0 435.0,299.0" fill="#9a5cc2"/>
<polygon points="425.0,303.0 427.0,305.0 425.0,308.0" fill="#fdb46a"/>
<polygon points="427.0,309.0 431.0,304.0 436.0,302.0 441.0,303.0 445.0,308.0 451.0,310.0 455.0,315.0 425.0,315.0 425.0,310.0" fill="#8457cc"/>
<polygon points="425.0,311.0 431.0,309.5 435.0,311.0 440.0,312.5 445.0,312.0 451.0,312.5 454.0,315.0 425.0,315.0" fill="#654c9c"/>
<polygon points="432.0,306.0 435.0,304.5 437.5,306.5 434.5,308.5" fill="#654c9c"/>
<polygon points="455.0,297.0 465.0,296.0 473.0,303.0 481.0,311.0 485.0,313.0 485.0,315.0 463.0,315.0 458.0,307.0 452.0,299.0" fill="#ccb3ff"/>
<polygon points="459.5,302.0 465.0,298.0 472.0,305.0 477.0,311.0 481.0,315.0 469.0,315.0 464.0,309.0" fill="#ffffff"/>
<polygon points="476.0,302.0 481.0,305.0 485.0,302.0 485.0,313.0 481.0,311.0" fill="#a57de8"/>
</g>
<clipPath id="t15"><rect x="435.00" y="195.00" width="60.00" height="60.00"/></clipPath>
<g clip-path="url(#t15)">
<rect x="434.00" y="194.00" width="62.00" height="62.00" fill="#fdb46a"/>
<polygon points="444.0,195.0 460.0,195.0 460.0,199.5 456.5,206.0 454.0,214.0 451.0,224.0 447.0,235.0 447.5,245.0 446.0,247.0 442.0,255.0 435.0,255.0 435.0,239.0 437.0,228.0 438.0,218.0 439.0,212.0 443.5,206.0" fill="#ffe29a"/>
<polygon points="449.0,195.0 468.0,195.0 465.0,198.0 460.0,199.0 458.0,202.0 455.0,207.0 449.0,213.5 444.5,208.0 444.0,203.0" fill="#ffffff"/>
<polygon points="435.0,239.0 437.0,235.0 442.0,230.0 446.0,235.0 447.0,238.0 437.0,251.0 435.0,255.0" fill="#ffffff"/>
<polygon points="459.0,210.0 461.0,204.0 468.0,202.5 475.0,205.0 479.0,206.0 475.0,210.0 474.0,215.0 476.0,221.0 479.0,226.0 478.0,232.0 473.0,236.0 468.0,239.0 464.0,239.0 456.0,242.0 452.5,246.0 450.0,239.0 452.5,229.0 456.0,220.0" fill="#ee9557"/>
<polygon points="452.5,246.0 455.0,251.0 459.0,255.0 444.0,255.0 448.0,251.0" fill="#ee9557"/>
<polygon points="458.0,212.0 464.0,208.0 469.0,212.0 474.0,211.5 474.0,216.0 476.0,221.0 477.5,226.0 473.0,227.5 469.0,230.0 465.0,233.0 459.0,236.0 453.0,236.5 452.5,230.0 456.0,220.0" fill="#c0744a"/>
<polygon points="450.0,251.0 452.5,248.0 455.0,255.0 446.0,255.0" fill="#c0744a"/>
<polygon points="456.0,242.0 464.0,239.0 468.0,239.0 463.5,242.5 462.0,247.0 465.0,255.0 459.0,255.0 455.0,251.0" fill="#fdb46a"/>
<polygon points="481.0,195.0 485.0,200.0 479.0,206.0 475.0,210.0 474.0,215.0 476.0,221.0 479.0,226.0 478.0,232.0 473.0,236.0 468.0,239.0 463.5,242.5 462.0,247.0 465.0,255.0 495.0,255.0 495.0,195.0" fill="#c294da"/>
<polygon points="495.0,205.0 491.0,215.0 489.0,224.0 484.0,229.0 480.0,235.0 475.0,238.0 469.0,242.0 467.0,247.0 469.0,255.0 495.0,255.0" fill="#9652be"/>
<polygon points="495.0,228.0 491.0,232.0 487.0,237.0 483.0,240.0 479.0,246.0 479.0,251.0 481.0,255.0 495.0,255.0" fill="#70309a"/>
<polygon points="487.0,252.0 494.0,251.5 495.0,255.0 487.0,255.0" fill="#4d2175"/>
</g>
<g class="b">
<polyline points="81.2,42.5 80.3,52.5 78.8,61.7 75.3,65.8 63.8,67.5 55.5,76.2 45.8,78.8 39.5,83.8 40.0,88.3 46.7,87.7 49.5,90.8 48.7,95.5 42.0,95.7 39.5,100.0 40.3,105.5 48.3,112.2 47.5,116.7 43.0,121.3 34.7,122.5 30.0,126.2 24.2,128.0 15.5,117.0 10.0,117.0 7.7,115.8"/>
<polyline points="100.0,157.0 93.0,157.2 86.7,160.8 82.0,181.7 86.7,190.8 81.7,194.2 81.3,198.0 84.2,205.8 85.8,220.8 92.5,226.3 100.0,227.5"/>
<polyline points="243.7,42.7 245.3,45.0 246.7,43.0 250.0,43.3 250.3,46.7 248.3,48.3 250.0,49.2 252.0,47.0 252.5,50.8 257.5,51.3 257.8,48.3 271.7,50.8 278.3,57.8 280.8,65.8 297.5,70.0 300.0,73.3"/>
<polyline points="300.0,73.3 301.7,76.3 305.8,72.5 315.5,72.5 323.3,76.7 330.5,73.3 344.2,77.5 350.0,78.7 353.0,76.2 358.0,79.7 360.8,78.7 365.8,71.7 368.7,73.0 374.2,70.3 379.5,64.2 383.7,54.7 387.8,53.8 397.5,58.7 400.0,54.2"/>
<polyline points="400.0,54.2 401.7,55.8 405.0,52.5 417.5,51.7 419.2,47.0 422.5,47.0 425.0,44.2 425.5,42.5"/>
<polyline points="433.3,43.0 434.2,44.2 446.7,43.7 447.8,42.5"/>
<polyline points="401.7,55.8 405.0,63.3 413.3,75.0 414.7,80.0 413.3,84.2 415.3,90.0 410.3,97.5 409.2,103.3 415.8,108.8 422.5,107.5 429.2,113.3 425.8,117.5 420.0,117.5 419.7,122.5 422.5,127.0 418.7,130.8 418.3,133.3"/>
<polyline points="100.0,157.0 104.7,156.7 115.8,165.0 132.5,183.0 142.5,188.7 147.5,185.5 160.8,159.7 165.8,155.3 177.5,159.5 185.8,159.7 200.0,156.3"/>
<polyline points="200.0,156.3 210.3,153.7 232.5,167.0 237.0,167.3 243.3,163.0 251.2,168.3 255.0,168.3 258.7,165.3 259.7,169.7 262.5,168.3 266.7,173.0 269.7,170.8 280.8,170.8 300.0,181.7"/>
<polyline points="300.0,181.7 303.3,180.8 317.5,167.5 321.7,168.7 329.2,176.3 333.3,176.3 337.0,174.7 337.5,169.7 341.3,167.0 350.0,173.0 359.2,173.3 367.0,179.7 375.8,174.7 378.7,175.0 382.5,180.0 384.2,175.3 385.8,175.3 388.0,183.3 391.3,188.3 395.8,188.7 396.7,193.7 394.2,196.3 394.2,200.8 400.0,205.3"/>
<polyline points="419.7,132.5 439.2,148.7 444.2,148.0 448.3,152.5 459.2,155.0 461.7,156.7 458.7,161.3 454.2,160.0 448.3,162.5 442.5,161.7 437.5,157.5 434.2,157.5 433.3,165.0 426.7,165.3 429.7,182.0 421.7,190.8 423.3,193.3 430.0,193.0 430.8,195.8 418.3,204.2 414.2,208.7"/>
<polyline points="400.0,205.3 405.0,208.7 414.2,208.7 423.3,208.3 435.8,200.0 440.0,202.2 452.5,202.2 455.8,205.3 453.5,215.3"/>
<polyline points="453.0,215.0 450.7,222.0 447.2,235.4 437.8,247.7 434.9,255.2 430.8,258.2 433.8,269.2"/>
<polyline points="473.3,320.0 481.7,325.8 480.0,330.0 472.5,335.8 465.8,335.0 459.2,335.8 445.8,329.2 440.8,331.7 442.5,338.3 450.0,350.0 465.0,370.0 465.8,376.7 471.7,387.5 467.5,389.2 457.5,391.3 452.5,385.8 446.7,388.3 443.3,396.7 438.3,395.0 430.0,395.8"/>
<polyline points="438.3,391.7 439.2,395.0 440.8,396.7 442.5,403.3 451.7,410.0 467.5,420.0"/>
<polyline points="461.7,415.0 486.7,440.0 491.7,446.3 503.3,450.8 520.8,463.3"/>
<polyline points="491.7,519.2 485.8,524.2 480.8,531.7 480.0,535.8 475.8,539.2 474.2,544.2 467.5,552.5 462.5,557.5 460.8,565.0 456.7,571.7 453.3,575.8"/>
<polyline points="491.7,519.2 495.8,522.5 497.5,528.3 494.2,531.7 495.0,537.5 498.3,542.5 502.5,545.8 506.7,544.2 510.8,542.5 515.0,539.2 520.8,539.2"/>
<polyline points="430.0,571.7 435.0,572.5 437.5,575.0 440.0,573.3 446.7,575.0 452.5,576.3 453.3,575.8 457.5,570.8 461.7,565.0 455.0,572.5 451.7,571.7 451.3,574.2 453.3,575.8"/>
<polyline points="430.0,396.7 425.8,395.8 420.8,392.5 413.3,397.5 415.0,406.7 420.0,410.8 424.2,420.0"/>
<polyline points="425.0,415.0 428.3,429.2 422.5,430.8 418.3,434.2 414.2,430.0 411.7,422.5 406.7,420.8 400.0,423.3 394.2,427.5 387.5,435.0 383.3,443.3 381.7,447.5 382.5,460.8 371.7,467.5 365.8,478.3 364.2,501.7 374.2,511.7 373.3,515.0"/>
<polyline points="7.7,250.8 16.7,257.5 25.8,267.5 35.8,279.2 48.3,285.3 57.5,293.0 62.5,294.7 60.5,298.3 62.5,300.8 66.7,302.5 70.0,307.5 71.7,311.3 69.7,311.3 68.3,306.7 64.2,305.3 60.8,306.2 56.3,302.5 61.3,300.0 60.3,297.0 56.7,294.7 48.3,293.8 38.3,285.8 33.3,283.3 25.0,275.8 16.7,268.3 10.0,264.2"/>
<polyline points="7.7,257.5 12.5,260.0 15.8,263.7 12.5,264.2 14.2,267.5 10.0,270.0 7.7,269.2"/>
<polyline points="7.7,270.0 11.7,275.0 16.7,276.7 17.5,282.5 21.7,286.7 25.0,283.3 29.2,285.8 30.8,287.5 25.0,288.3 22.5,285.8 25.0,290.0 30.0,289.7 32.5,284.2 37.5,285.8 35.8,288.3 38.3,295.0 35.8,294.7 34.2,290.8 30.0,290.8 29.2,293.3 25.8,295.8 20.8,291.7 18.3,294.2 23.3,298.3 22.5,302.5 27.5,308.3 28.3,312.5 35.8,319.2"/>
<polyline points="35.8,319.2 38.3,325.0 44.2,328.3 53.3,341.7 60.8,345.0 65.8,350.8 73.3,354.2 77.5,356.7 76.7,359.7 71.7,356.7 78.3,364.2 86.7,365.0 95.8,371.7 100.0,373.3"/>
<polyline points="95.0,365.8 98.3,369.2 95.8,370.8 100.0,370.0"/>
<polyline points="7.7,319.2 10.0,325.0 15.8,331.7 20.0,334.2 20.8,338.3 30.0,344.7 28.3,350.0 21.7,343.0 27.5,347.5 20.0,342.5 15.0,335.8 7.7,326.7"/>
<polyline points="98.3,226.7 103.3,230.0 113.0,243.3 111.3,250.8 113.0,254.2 116.7,252.5 120.0,253.3 121.7,255.8 125.3,264.2 124.5,275.8 132.5,280.8 131.3,292.5 135.8,305.0 149.2,320.0"/>
<polyline points="140.0,310.0 150.0,320.8 163.3,331.7 171.7,343.3 190.8,359.2 200.0,370.0"/>
<polyline points="100.0,374.2 103.3,379.2 106.7,383.3 101.7,383.3 103.3,390.0 105.8,392.5 104.2,395.0 109.2,396.7 106.7,400.8 111.7,402.5 116.7,404.2 122.5,406.3 125.0,403.3 128.3,401.3 123.3,400.0 129.2,400.8 140.8,398.3 146.7,394.7 155.0,395.8 159.2,397.0 150.8,400.8 164.2,401.3 173.3,408.3 176.7,410.0"/>
<polyline points="176.7,410.0 180.8,409.2 182.5,412.5 185.8,414.2 200.8,416.7 218.3,434.2 220.8,439.2 225.0,441.7 240.0,452.7"/>
<polyline points="155.0,416.7 185.8,421.3 191.7,423.3 194.2,425.0 198.3,424.7 203.0,428.3 198.3,434.2 176.7,435.8 164.2,433.3 156.7,430.0 152.5,426.7 155.0,424.2 155.8,420.8 155.0,416.7"/>
<polyline points="150.0,445.0 156.7,442.5 162.5,442.5 166.7,445.8 169.2,442.5 170.0,440.8 177.5,441.3 180.8,447.5 184.2,449.7 200.0,449.5 200.8,450.8 232.5,454.2 228.3,455.8 213.3,455.5 179.2,455.0 159.2,449.2 150.0,445.0"/>
<polyline points="164.2,440.0 167.5,438.8 169.2,441.7 166.7,443.0 164.2,440.0"/>
<polyline points="175.0,474.2 181.7,472.5 197.5,478.0 216.7,474.5 226.7,476.7 229.2,481.7 233.3,483.7 228.3,484.2 208.3,482.5 198.3,486.7 190.0,485.0 177.5,482.5 176.7,480.0 183.3,477.5 175.0,474.2"/>
<polyline points="240.0,470.2 236.7,469.2 220.8,468.0 217.5,467.5 213.3,465.5 215.0,470.0 213.3,471.7 220.0,474.2 230.0,475.0 236.7,474.2 240.0,478.0"/>
<polyline points="200.0,370.0 215.8,389.2 225.0,397.5 233.3,400.0 238.3,404.2 243.3,428.3 245.0,430.0"/>
<polyline points="245.0,430.0 260.0,446.7 270.0,455.0 281.7,467.5 284.2,471.7 282.5,477.5 279.2,480.0 273.3,480.8 269.2,479.2"/>
<polyline points="280.8,489.2 280.8,485.0 285.0,483.3 296.7,484.2 306.7,490.8 320.0,503.3 333.3,515.8 340.0,520.0"/>
<polyline points="240.0,452.5 247.5,456.7 255.0,465.8 256.7,463.3 257.5,467.5 260.0,465.8 259.2,470.8 263.3,467.5 261.7,473.3 265.0,477.5 269.2,479.2 275.0,482.5 280.8,489.2 285.0,489.2 281.7,490.8 288.3,495.0"/>
<polyline points="240.0,470.0 246.7,472.5 256.7,478.3 262.5,484.2 266.7,485.0 267.5,483.0 284.2,495.0 290.0,500.0 291.7,505.0 290.0,503.3 285.0,495.8"/>
<polyline points="240.0,478.3 250.0,483.3 257.5,485.8 258.3,490.0 290.0,500.8"/>
<polyline points="291.7,501.7 298.3,498.3 302.5,501.7 303.3,505.0 306.7,507.5 318.3,515.0 320.8,514.2 321.7,515.8 323.3,520.8 331.7,524.2 338.3,525.8 340.0,530.0"/>
<polyline points="245.8,502.0 250.8,499.2 254.2,500.8 288.3,510.8 290.0,515.3 280.0,512.0 260.0,506.7 254.2,507.5 251.7,505.0 245.8,502.0"/>
<polyline points="365.0,490.0 364.2,501.7 374.2,510.8 371.3,520.8 372.5,525.8 364.2,535.0 360.0,526.7 355.8,520.8 348.3,520.0 337.5,519.2 330.0,514.2"/>
<polyline points="330.0,524.2 335.8,525.8 338.3,530.0 358.3,547.5 362.5,549.2 368.3,555.8 369.2,552.5 368.3,548.3 375.0,550.0 385.8,546.7 382.5,542.5 385.8,539.7 388.3,544.2 393.3,543.0 394.2,552.5 387.5,545.8 385.8,549.2 389.2,553.3 387.5,555.8 372.5,552.5 375.0,550.0"/>
<polyline points="372.5,552.5 378.3,560.0 383.3,557.5 386.7,558.3 388.3,565.0 395.0,572.5 398.3,571.3 403.3,571.7 406.7,573.3 407.5,576.5"/>
<polyline points="426.7,568.3 429.2,573.3 430.0,572.5 427.5,568.0 426.7,568.3"/>
<polyline points="432.5,269.2 432.3,270.0 428.3,275.3 430.3,282.7 433.7,287.3 441.7,293.3 449.7,294.0 452.3,298.7 457.7,304.0 464.3,311.3 467.7,312.7 469.0,316.7 473.4,320.0"/>
</g>
</g>
<rect x="7.5" y="42.5" width="513.3" height="534" fill="none" stroke="#000" stroke-width="0.8"/><rect x="530.5" y="28.60" width="19" height="43.65" fill="#529455"/><rect x="530.5" y="71.85" width="19" height="43.65" fill="#62b866"/><rect x="530.5" y="115.10" width="19" height="43.65" fill="#8dd88d"/><rect x="530.5" y="158.35" width="19" height="43.65" fill="#c0f5c0"/><rect x="530.5" y="28.80" width="19" height="173" fill="none" stroke="#000" stroke-width="0.8"/><line x1="549.5" x2="553" y1="28.80" y2="28.80" stroke="#000" stroke-width="0.8"/><text class="t" x="557.2" y="32.50" textLength="19.1" lengthAdjust="spacingAndGlyphs">100</text><line x1="549.5" x2="553" y1="72.05" y2="72.05" stroke="#000" stroke-width="0.8"/><text class="t" x="557.2" y="75.75" textLength="12.7" lengthAdjust="spacingAndGlyphs">80</text><line x1="549.5" x2="553" y1="115.30" y2="115.30" stroke="#000" stroke-width="0.8"/><text class="t" x="557.2" y="119.00" textLength="12.7" lengthAdjust="spacingAndGlyphs">60</text><line x1="549.5" x2="553" y1="158.55" y2="158.55" stroke="#000" stroke-width="0.8"/><text class="t" x="557.2" y="162.25" textLength="12.7" lengthAdjust="spacingAndGlyphs">40</text><line x1="549.5" x2="553" y1="201.80" y2="201.80" stroke="#000" stroke-width="0.8"/><text class="t" x="557.2" y="205.50" textLength="12.7" lengthAdjust="spacingAndGlyphs">20</text><text class="t" transform="translate(587.6,115.3) rotate(-90)" text-anchor="middle" textLength="112" lengthAdjust="spacingAndGlyphs">Visoka oblačnost (%)</text><rect x="530.5" y="219.30" width="19" height="43.65" fill="#c0744a"/><rect x="530.5" y="262.55" width="19" height="43.65" fill="#ee9557"/><rect x="530.5" y="305.80" width="19" height="43.65" fill="#fdb46a"/><rect x="530.5" y="349.05" width="19" height="43.65" fill="#ffe29a"/><rect x="530.5" y="219.50" width="19" height="173" fill="none" stroke="#000" stroke-width="0.8"/><line x1="549.5" x2="553" y1="219.50" y2="219.50" stroke="#000" stroke-width="0.8"/><text class="t" x="557.2" y="223.20" textLength="19.1" lengthAdjust="spacingAndGlyphs">100</text><line x1="549.5" x2="553" y1="262.75" y2="262.75" stroke="#000" stroke-width="0.8"/><text class="t" x="557.2" y="266.45" textLength="12.7" lengthAdjust="spacingAndGlyphs">80</text><line x1="549.5" x2="553" y1="306.00" y2="306.00" stroke="#000" stroke-width="0.8"/><text class="t" x="557.2" y="309.70" textLength="12.7" lengthAdjust="spacingAndGlyphs">60</text><line x1="549.5" x2="553" y1="349.25" y2="349.25" stroke="#000" stroke-width="0.8"/><text class="t" x="557.2" y="352.95" textLength="12.7" lengthAdjust="spacingAndGlyphs">40</text><line x1="549.5" x2="553" y1="392.50" y2="392.50" stroke="#000" stroke-width="0.8"/><text class="t" x="557.2" y="396.20" textLength="12.7" lengthAdjust="spacingAndGlyphs">20</text><text class="t" transform="translate(587.6,306.0) rotate(-90)" text-anchor="middle" textLength="118" lengthAdjust="spacingAndGlyphs">Srednja oblačnost (%)</text><rect x="530.5" y="410.00" width="19" height="43.65" fill="#654c9c"/><rect x="530.5" y="453.25" width="19" height="43.65" fill="#8457cc"/><rect x="530.5" y="496.50" width="19" height="43.65" fill="#a57de8"/><rect x="530.5" y="539.75" width="19" height="43.65" fill="#ccb3ff"/><rect x="530.5" y="410.20" width="19" height="173" fill="none" stroke="#000" stroke-width="0.8"/><line x1="549.5" x2="553" y1="410.20" y2="410.20" stroke="#000" stroke-width="0.8"/><text class="t" x="557.2" y="413.90" textLength="19.1" lengthAdjust="spacingAndGlyphs">100</text><line x1="549.5" x2="553" y1="453.45" y2="453.45" stroke="#000" stroke-width="0.8"/><text class="t" x="557.2" y="457.15" textLength="12.7" lengthAdjust="spacingAndGlyphs">80</text><line x1="549.5" x2="553" y1="496.70" y2="496.70" stroke="#000" stroke-width="0.8"/><text class="t" x="557.2" y="500.40" textLength="12.7" lengthAdjust="spacingAndGlyphs">60</text><line x1="549.5" x2="553" y1="539.95" y2="539.95" stroke="#000" stroke-width="0.8"/><text class="t" x="557.2" y="543.65" textLength="12.7" lengthAdjust="spacingAndGlyphs">40</text><line x1="549.5" x2="553" y1="583.20" y2="583.20" stroke="#000" stroke-width="0.8"/><text class="t" x="557.2" y="586.90" textLength="12.7" lengthAdjust="spacingAndGlyphs">20</text><text class="t" transform="translate(587.6,496.7) rotate(-90)" text-anchor="middle" textLength="106" lengthAdjust="spacingAndGlyphs">Niska oblačnost (%)</text><text x="253" y="17.5" font-size="12.3" text-anchor="middle" textLength="63.7" lengthAdjust="spacingAndGlyphs">Oblačnost</text><text x="252.5" y="31.7" font-size="12.3" text-anchor="middle" textLength="138" lengthAdjust="spacingAndGlyphs">2026-04-30_22:00:00</text><text x="103" y="590.1" font-size="9.2" fill="#808080" textLength="299" lengthAdjust="spacingAndGlyphs">WRF-ARW v4.6.1, Federalni hidrometeorološki zavod Sarajevo</text><circle cx="97.0" cy="215.0" r="3.8" fill="#ff0000"/><text class="c" x="106.7" y="214.7" textLength="25.5" lengthAdjust="spacingAndGlyphs">Bihać</text><circle cx="232.0" cy="220.7" r="3.8" fill="#ff0000"/><text class="c" x="241.7" y="220.5" textLength="52.1" lengthAdjust="spacingAndGlyphs">Banja Luka</text><circle cx="385.3" cy="254.3" r="3.8" fill="#ff0000"/><text class="c" x="395.0" y="254.2" textLength="23.0" lengthAdjust="spacingAndGlyphs">Tuzla</text><circle cx="306.0" cy="302.3" r="3.8" fill="#ff0000"/><text class="c" x="315.8" y="302.2" textLength="30.9" lengthAdjust="spacingAndGlyphs">Zenica</text><circle cx="213.3" cy="355.7" r="3.8" fill="#ff0000"/><text class="c" x="223.0" y="355.5" textLength="25.3" lengthAdjust="spacingAndGlyphs">Livno</text><circle cx="358.0" cy="352.7" r="3.8" fill="#ff0000"/><text class="c" x="368.0" y="352.5" textLength="40.7" lengthAdjust="spacingAndGlyphs">Sarajevo</text><circle cx="296.2" cy="424.0" r="3.8" fill="#ff0000"/><text class="c" x="305.8" y="423.8" textLength="32.9" lengthAdjust="spacingAndGlyphs">Mostar</text>
</svg></body></html>
